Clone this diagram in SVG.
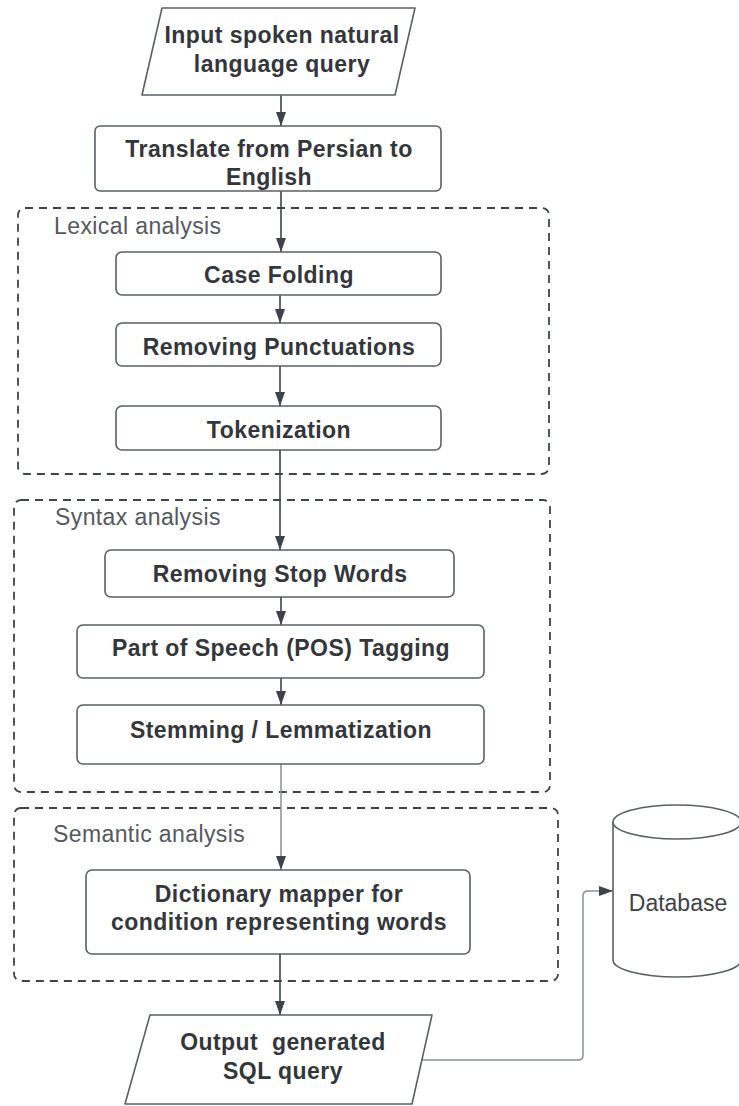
<svg xmlns="http://www.w3.org/2000/svg" width="739" height="1106" viewBox="0 0 739 1106">
  <style>
    .node { fill: #ffffff; stroke: #5b5f66; stroke-width: 1.6; stroke-linejoin: round; }
    .group { fill: none; stroke: #3f444c; stroke-width: 1.8; stroke-dasharray: 8 6; }
    .t { font-family: "Liberation Sans", Arial, sans-serif; font-size: 23px; letter-spacing: 0.45px; font-weight: bold; fill: #33363b; text-anchor: middle; }
    .lbl { font-family: "Liberation Sans", Arial, sans-serif; font-size: 23px; letter-spacing: 0.4px; fill: #55595f; }
    .db { font-family: "Liberation Sans", Arial, sans-serif; font-size: 23px; fill: #3f4349; text-anchor: middle; }
    .edge { fill: none; stroke: #3d434d; stroke-width: 1.6; }
    .edge.light { stroke: #8a8e94; stroke-width: 1.5; }
  </style>
  <defs>
    <marker id="arrow" viewBox="0 0 14 10" refX="14" refY="5" markerWidth="14" markerHeight="10" markerUnits="userSpaceOnUse" orient="auto">
      <path d="M0,0 L14,5 L0,10 z" fill="#3d434d"/>
    </marker>
  </defs>

  <rect width="739" height="1106" fill="#ffffff"/>

  <!-- dashed stage containers -->
  <g id="lexical-analysis">
    <rect class="group" x="18" y="208" width="531" height="266" rx="7"/>
    <text class="lbl" x="54" y="234">Lexical analysis</text>
  </g>
  <g id="syntax-analysis">
    <rect class="group" x="14" y="500" width="536" height="292" rx="7"/>
    <text class="lbl" x="55" y="525">Syntax analysis</text>
  </g>
  <g id="semantic-analysis">
    <rect class="group" x="14" y="808" width="544" height="173" rx="7"/>
    <text class="lbl" x="53" y="842">Semantic analysis</text>
  </g>

  <!-- connectors -->
  <g id="connectors">
    <line class="edge" x1="281" y1="95" x2="281" y2="126" marker-end="url(#arrow)"/>
    <line class="edge" x1="281" y1="191" x2="281" y2="252" marker-end="url(#arrow)"/>
    <line class="edge" x1="280" y1="295" x2="280" y2="323" marker-end="url(#arrow)"/>
    <line class="edge" x1="280" y1="366" x2="280" y2="406" marker-end="url(#arrow)"/>
    <line class="edge" x1="280" y1="450" x2="280" y2="550" marker-end="url(#arrow)"/>
    <line class="edge" x1="281" y1="597" x2="281" y2="625" marker-end="url(#arrow)"/>
    <line class="edge" x1="281" y1="678" x2="281" y2="705" marker-end="url(#arrow)"/>
    <line class="edge light" x1="281" y1="764" x2="281" y2="870" marker-end="url(#arrow)"/>
    <line class="edge" x1="280" y1="954" x2="280" y2="1015" marker-end="url(#arrow)"/>
    <path class="edge light" d="M421,1060 H578 Q583,1060 583,1055 V896 Q583,891 588,891 H613" marker-end="url(#arrow)"/>
  </g>

  <g id="input-query">
    <path class="node" d="M162,8 H415 L395,95 H142 Z"/>
    <text class="t" x="282" y="43">Input spoken natural</text>
    <text class="t" x="282" y="72">language query</text>
  </g>
  <g id="translate">
    <rect class="node" x="95" y="126" width="346" height="65" rx="5"/>
    <text class="t" x="269" y="157">Translate from Persian to</text>
    <text class="t" x="269" y="185">English</text>
  </g>
  <g id="case-folding">
    <rect class="node" x="116" y="252" width="325" height="43" rx="6"/>
    <text class="t" x="279" y="283">Case Folding</text>
  </g>
  <g id="removing-punctuations">
    <rect class="node" x="116" y="323" width="325" height="43" rx="6"/>
    <text class="t" x="279" y="355">Removing Punctuations</text>
  </g>
  <g id="tokenization">
    <rect class="node" x="116" y="406" width="325" height="44" rx="6"/>
    <text class="t" x="279" y="438">Tokenization</text>
  </g>
  <g id="removing-stop-words">
    <rect class="node" x="105" y="550" width="349" height="47" rx="6"/>
    <text class="t" x="280" y="582">Removing Stop Words</text>
  </g>
  <g id="pos-tagging">
    <rect class="node" x="77" y="625" width="407" height="53" rx="6"/>
    <text class="t" x="281" y="656">Part of Speech (POS) Tagging</text>
  </g>
  <g id="stemming">
    <rect class="node" x="77" y="705" width="407" height="59" rx="6"/>
    <text class="t" x="281" y="738">Stemming / Lemmatization</text>
  </g>
  <g id="dictionary-mapper">
    <rect class="node" x="86" y="870" width="384" height="84" rx="6"/>
    <text class="t" x="279" y="902">Dictionary mapper for</text>
    <text class="t" x="279" y="930">condition representing words</text>
  </g>
  <g id="output-query">
    <path class="node" d="M150,1015 H432 L412,1104 H125 Z"/>
    <text class="t" x="283" y="1050" xml:space="preserve">Output  generated</text>
    <text class="t" x="283" y="1079">SQL query</text>
  </g>
  <g id="database">
    <path class="node" d="M613,822 V960 A64,17 0 0 0 741,960 V822"/>
    <ellipse class="node" cx="677" cy="822" rx="64" ry="17"/>
    <text class="db" x="678" y="911">Database</text>
  </g>
</svg>
